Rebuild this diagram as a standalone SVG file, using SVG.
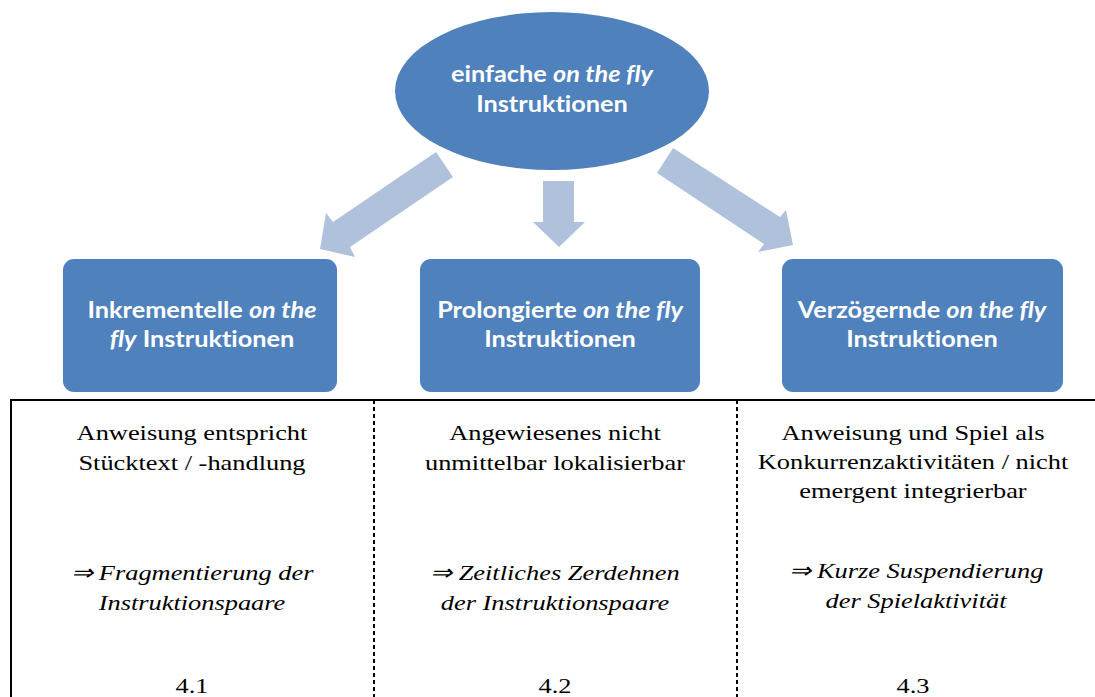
<svg xmlns="http://www.w3.org/2000/svg" width="1095" height="697" viewBox="0 0 1095 697">
<style>
.node{fill:#4F81BD;}
.arr{fill:#B0C1DC;}
.nt{font-family:Lato,"Open Sans",sans-serif;font-weight:bold;font-size:22px;fill:#FFFFFF;text-anchor:middle;font-variant-ligatures:none;}
.it{font-style:italic;}
.tt{font-family:"Liberation Serif","Times New Roman",serif;font-size:22px;fill:#000;text-anchor:middle;}
.dash{stroke:#000;stroke-width:2;stroke-dasharray:4,3;}
</style>
<rect width="1095" height="697" fill="#FFFFFF"/>
<g id="connectors">
<polygon class="arr" points="436,152 453,177 350,247 355,257 320,249 326,213 333,222"/>
<polygon class="arr" points="543,181 574,181 574,222 585,222 559,247 533,222 543,222"/>
<polygon class="arr" points="673,148 657,173 764,244 758,252 793,245 786,210 780,217"/>
</g>
<g id="node-top">
<ellipse class="node" cx="552" cy="91" rx="157" ry="79"/>
<g transform="translate(552,0) scale(1.15,1)">
<text class="nt" x="0" y="82">einfache <tspan class="it">on the fly</tspan></text>
<text class="nt" x="0" y="112">Instruktionen</text>
</g>
</g>
<g id="node-1">
<rect class="node" x="63" y="259" width="274" height="133" rx="11"/>
<g transform="translate(202,0) scale(1.15,1)">
<text class="nt" x="0" y="318">Inkrementelle <tspan class="it">on the</tspan></text>
<text class="nt" x="0" y="347"><tspan class="it">fly</tspan> Instruktionen</text>
</g>
</g>
<g id="node-2">
<rect class="node" x="420" y="259" width="280" height="133" rx="11"/>
<g transform="translate(560,0) scale(1.15,1)">
<text class="nt" x="0" y="318">Prolongierte <tspan class="it">on the fly</tspan></text>
<text class="nt" x="0" y="347">Instruktionen</text>
</g>
</g>
<g id="node-3">
<rect class="node" x="782" y="259" width="281" height="133" rx="11"/>
<g transform="translate(922,0) scale(1.15,1)">
<text class="nt" x="0" y="318">Verzögernde <tspan class="it">on the fly</tspan></text>
<text class="nt" x="0" y="347">Instruktionen</text>
</g>
</g>
<g id="table">
<line x1="10" y1="400" x2="1095" y2="400" stroke="#000" stroke-width="2"/>
<line x1="11" y1="399" x2="11" y2="697" stroke="#000" stroke-width="2"/>
<line class="dash" x1="374" y1="400" x2="374" y2="697"/>
<line class="dash" x1="737" y1="400" x2="737" y2="697"/>
<g id="col-1" transform="translate(192,0) scale(1.2,1)">
<text class="tt" x="0" y="440">Anweisung entspricht</text>
<text class="tt" x="0" y="470">Stücktext / -handlung</text>
<text class="tt it" x="0" y="580">⇒ Fragmentierung der</text>
<text class="tt it" x="0" y="610">Instruktionspaare</text>
<text class="tt" x="0" y="693">4.1</text>
</g>
<g id="col-2" transform="translate(555,0) scale(1.2,1)">
<text class="tt" x="0" y="440">Angewiesenes nicht</text>
<text class="tt" x="0" y="470">unmittelbar lokalisierbar</text>
<text class="tt it" x="0" y="580">⇒ Zeitliches Zerdehnen</text>
<text class="tt it" x="0" y="610">der Instruktionspaare</text>
<text class="tt" x="0" y="693">4.2</text>
</g>
<g id="col-3" transform="translate(913,0) scale(1.2,1)">
<text class="tt" x="0" y="440">Anweisung und Spiel als</text>
<text class="tt" x="0" y="469">Konkurrenzaktivitäten / nicht</text>
<text class="tt" x="0" y="498">emergent integrierbar</text>
<text class="tt it" x="2.5" y="578">⇒ Kurze Suspendierung</text>
<text class="tt it" x="2.5" y="608">der Spielaktivität</text>
<text class="tt" x="0" y="693">4.3</text>
</g>
</g>
</svg>
